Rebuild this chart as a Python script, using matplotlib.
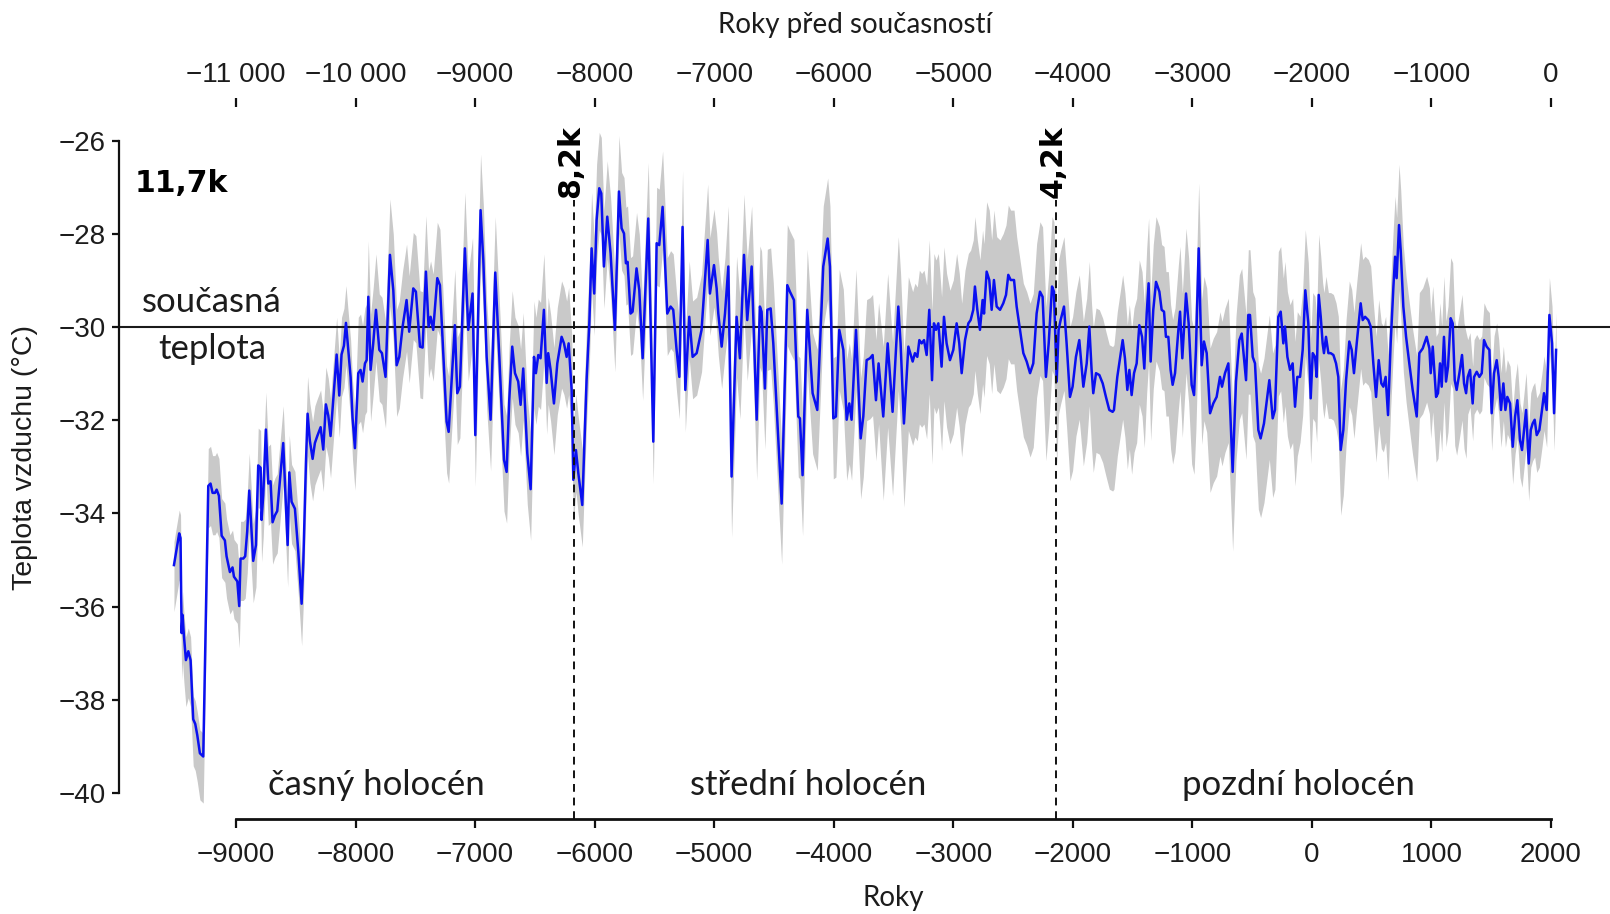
import numpy as np
import matplotlib
matplotlib.use("Agg")
import matplotlib.pyplot as plt
import matplotlib.font_manager as fm

# ---------------- data ----------------
year = [
    -9520, -9476, -9465, -9456, -9448, -9437, -9420, -9400, -9381, -9359, -9342, -9325, -9303, -9275,
    -9233, -9214, -9197, -9177, -9163, -9144, -9121, -9094, -9080, -9052, -9030, -9018, -8990, -8974,
    -8963, -8940, -8924, -8907, -8890, -8871, -8857, -8834, -8815, -8795, -8787, -8773, -8751, -8731,
    -8712, -8695, -8675, -8656, -8634, -8606, -8592, -8569, -8555, -8536, -8508, -8480, -8452, -8438,
    -8416, -8402, -8383, -8360, -8341, -8321, -8293, -8271, -8249, -8229, -8210, -8193, -8173, -8159,
    -8137, -8118, -8098, -8081, -8065, -8042, -8026, -8006,
    -7978, -7959, -7942, -7922, -7908, -7894, -7875, -7853, -7830, -7802, -7780, -7750, -7713, -7685,
    -7657, -7635, -7607, -7574, -7552, -7518, -7496, -7462, -7440, -7412, -7390, -7373, -7351, -7317,
    -7295, -7239, -7222, -7170, -7150, -7128, -7086, -7058, -7022, -6999, -6955, -6932, -6904, -6871,
    -6832, -6798, -6759, -6737, -6715, -6690, -6667, -6640, -6620, -6598, -6564, -6536, -6508, -6492,
    -6472, -6453, -6425, -6402,
    -6389, -6369, -6341, -6313, -6277, -6257, -6235, -6218, -6193, -6179, -6157, -6137, -6104, -6068,
    -6045, -6026, -6004, -5984, -5962, -5945, -5923, -5895, -5867, -5831, -5797, -5775, -5755, -5739,
    -5725, -5700, -5683, -5650, -5627, -5599, -5552, -5510, -5482, -5460, -5432, -5393, -5365, -5343,
    -5315, -5292, -5265, -5242, -5209, -5181, -5147, -5106, -5055, -5036, -5002, -4980, -4966, -4938,
    -4910, -4882, -4855,
    -4813, -4785, -4751, -4724, -4687, -4645, -4618, -4604, -4576, -4556, -4528, -4506, -4436, -4389,
    -4367, -4333, -4297, -4283, -4261, -4222, -4177, -4138, -4088, -4051, -4032, -4004, -3982, -3954,
    -3920, -3892, -3870, -3851, -3814, -3775, -3753, -3725, -3697, -3675, -3647, -3625, -3586, -3549,
    -3508, -3460, -3441, -3413, -3376, -3340, -3321, -3301, -3284, -3265, -3245, -3223, -3201,
    -3178, -3162, -3145, -3125, -3112, -3098, -3078, -3056, -3028, -3000, -2972, -2950, -2930, -2902,
    -2874, -2855, -2833, -2819, -2799, -2777, -2755, -2743, -2721, -2699, -2679, -2660, -2637, -2609,
    -2582, -2559, -2540, -2520, -2492, -2470, -2442, -2414, -2386, -2358, -2331, -2303, -2275, -2253,
    -2225, -2202, -2174, -2158, -2135, -2119, -2102, -2074, -2052, -2024, -2002, -1974, -1946, -1912,
    -1884, -1862, -1843, -1829, -1806, -1778, -1750, -1723, -1695, -1667,
    -1656, -1628, -1583, -1564, -1544, -1527, -1508, -1488, -1466, -1444, -1421, -1402, -1382, -1366,
    -1349, -1327, -1304, -1276, -1257, -1237, -1221, -1201, -1182, -1165, -1145, -1117, -1103, -1084,
    -1053, -1031, -1006, -986, -970, -947, -922, -903, -880, -852, -825, -797, -769, -752,
    -727, -699, -663, -635, -607, -587, -551, -532, -518, -495, -476, -448, -429, -401,
    -356, -328, -309, -281, -261, -239, -225, -205, -183, -161, -141, -122, -99, -77,
    -55, -30, -10, 7, 26, 40, 57, 74, 90, 101, 118, 138, 157, 180,
    202, 221, 241, 263, 286, 313, 333, 352, 375, 389, 408, 425, 445, 472,
    492, 514, 537, 559, 581, 598, 617, 637, 659, 682, 696, 709, 729, 743,
    765, 788, 815, 843, 877, 899, 927, 960, 983, 994, 1011, 1039, 1055, 1072,
    1086, 1105, 1122, 1139, 1161, 1178, 1195, 1211, 1234, 1256, 1273, 1290, 1304, 1323,
    1345, 1357, 1379, 1401, 1421, 1440, 1462, 1485, 1504, 1524, 1546, 1563, 1582, 1602,
    1619, 1635, 1658, 1680, 1700, 1719, 1741, 1758, 1775, 1792, 1814, 1831, 1847, 1864,
    1881, 1903, 1925, 1942, 1964, 1987, 2009, 2026, 2043,
]
temp = [
    -35.11, -34.43, -34.53, -36.57, -36.18, -36.62, -37.15, -36.96, -37.15, -38.42, -38.52, -38.76, -39.15, -39.22,
    -33.41, -33.36, -33.56, -33.56, -33.49, -33.62, -34.48, -34.58, -34.92, -35.26, -35.16, -35.36, -35.46, -35.99,
    -34.97, -34.97, -34.92, -34.38, -33.51, -34.38, -35.02, -34.68, -32.97, -33.02, -34.14, -33.61, -32.20, -33.36,
    -33.31, -34.19, -34.04, -33.95, -33.31, -32.49, -33.31, -34.68, -33.12, -33.75, -33.90, -34.82, -35.94, -35.06,
    -32.92, -31.86, -32.44, -32.83, -32.49, -32.34, -32.15, -32.63, -31.66, -31.90, -32.34, -31.76, -31.08, -30.59,
    -31.47, -30.59, -30.40, -29.91, -30.40, -31.08, -31.95, -32.60,
    -30.99, -30.92, -31.17, -30.78, -30.71, -29.35, -30.92, -30.35, -29.63, -30.49, -30.56, -31.07, -28.45, -29.21,
    -30.82, -30.64, -29.99, -29.42, -30.10, -29.17, -29.24, -30.42, -30.44, -28.81, -29.99, -29.78, -30.06, -28.95,
    -29.10, -32.03, -32.25, -29.96, -31.42, -31.28, -28.31, -30.06, -29.28, -32.32, -27.49, -28.56, -30.64, -31.99,
    -28.83, -30.64, -32.85, -33.11, -31.57, -30.42, -30.99, -31.17, -31.67, -30.89, -32.71, -33.48, -30.64, -30.99,
    -30.60, -30.67, -29.63, -31.20,
    -30.56, -30.92, -31.64, -30.78, -30.21, -30.35, -30.64, -30.35, -31.35, -33.28, -32.64, -33.14, -33.82, -31.14,
    -29.92, -28.31, -29.28, -27.70, -27.02, -27.13, -28.70, -27.63, -28.42, -30.06, -27.09, -27.88, -27.99, -28.63,
    -28.60, -29.71, -29.67, -28.74, -29.21, -30.67, -27.67, -32.46, -28.20, -28.24, -27.42, -29.71, -29.56, -29.63,
    -30.49, -31.07, -27.85, -31.35, -29.78, -30.64, -30.56, -30.06, -28.13, -29.28, -28.67, -29.17, -29.71, -30.42,
    -29.71, -28.70, -33.21,
    -29.78, -30.67, -28.45, -29.85, -28.70, -31.99, -29.56, -29.67, -31.32, -29.63, -29.60, -30.35, -33.79, -29.10,
    -29.24, -29.42, -31.92, -31.96, -33.18, -29.63, -31.42, -31.78, -28.70, -28.10, -28.70, -31.96, -31.92, -30.06,
    -30.49, -31.99, -31.64, -31.99, -30.06, -32.39, -31.92, -30.71, -30.67, -30.60, -31.57, -30.78, -31.92, -30.35,
    -31.82, -29.56, -30.35, -32.07, -30.42, -30.74, -30.56, -30.64, -30.28, -30.35, -30.28, -30.60, -29.63,
    -31.14, -29.92, -30.06, -29.92, -30.35, -30.85, -29.78, -30.35, -30.71, -30.49, -29.92, -30.35, -30.99, -30.28,
    -29.92, -29.85, -29.63, -29.13, -29.63, -30.06, -29.42, -29.71, -28.81, -28.99, -29.63, -28.99, -29.56, -29.63,
    -29.49, -29.31, -28.88, -28.99, -28.99, -29.56, -30.06, -30.56, -30.74, -30.99, -30.78, -29.71, -29.24, -29.35,
    -31.07, -30.35, -29.13, -29.24, -31.17, -30.06, -29.85, -29.56, -30.35, -31.50, -31.28, -30.64, -30.28, -31.28,
    -30.78, -29.99, -30.92, -31.42, -30.99, -31.03, -31.21, -31.50, -31.78, -31.82,
    -31.78, -31.07, -30.28, -30.67, -31.35, -30.92, -31.46, -30.99, -30.78, -29.96, -30.21, -30.89, -29.71, -29.06,
    -30.74, -29.63, -29.03, -29.24, -29.63, -29.67, -30.21, -30.21, -30.92, -31.24, -30.99, -30.06, -29.67, -30.67,
    -29.28, -29.92, -31.24, -31.46, -30.49, -28.31, -30.82, -30.31, -30.56, -31.85, -31.64, -31.50, -31.07, -31.28,
    -30.99, -30.78, -33.11, -31.17, -30.28, -30.14, -31.14, -29.74, -29.74, -30.64, -30.78, -32.21, -32.39, -32.07,
    -31.14, -31.96, -31.78, -29.78, -29.67, -30.35, -29.99, -30.64, -30.92, -30.78, -31.71, -31.07, -31.07, -30.49,
    -29.21, -29.92, -31.53, -30.56, -30.64, -31.07, -29.31, -29.78, -30.35, -30.56, -30.21, -30.56, -30.56, -30.60,
    -30.78, -31.07, -32.64, -32.21, -31.14, -30.31, -30.49, -30.99, -30.35, -29.99, -29.49, -29.85, -29.78, -29.85,
    -29.99, -30.78, -31.50, -30.71, -31.21, -31.28, -31.07, -31.89, -30.35, -29.13, -28.49, -28.95, -27.81, -28.35,
    -29.56, -30.21, -30.78, -31.35, -31.92, -30.56, -30.46, -30.21, -30.46, -30.99, -30.42, -31.50, -31.42, -30.78,
    -31.28, -30.21, -31.17, -30.85, -29.81, -29.92, -31.14, -31.35, -30.99, -30.60, -31.21, -31.42, -31.07, -30.92,
    -31.64, -31.07, -30.96, -31.07, -30.99, -30.28, -30.42, -30.49, -31.85, -30.99, -30.71, -31.07, -31.78, -31.21,
    -31.78, -31.50, -31.64, -32.57, -31.92, -31.57, -32.43, -32.64, -32.21, -31.78, -32.93, -32.21, -32.07, -31.99,
    -32.32, -32.21, -31.78, -31.42, -31.78, -29.74, -30.35, -31.85, -30.49,
]

# half-width of the grey uncertainty band, read per era (upper / lower, degC)
band_era_start = [-9600, -9250, -8000, -6200, -4900, -3600, -2000, -100, 1300]
band_upper_hw = [0.5, 0.8, 1.2, 1.2, 1.3, 1.5, 1.4, 1.3, 0.8]
band_lower_hw = [1.0, 0.9, 1.1, 0.9, 1.3, 1.8, 1.7, 1.4, 0.8]

present_temp = -30
events = [-6170, -2141]
event_labels = ["8,2k", "4,2k"]
event_label_x = [-6200, -2166]

periods = ["časný holocén", "střední holocén", "pozdní holocén"]
period_x = [-7826, -4211, -112]

xticks = [-9000, -8000, -7000, -6000, -5000, -4000, -3000, -2000, -1000, 0, 1000, 2000]
xtick_labels = ["−9000", "−8000", "−7000", "−6000", "−5000", "−4000", "−3000",
                "−2000", "−1000", "0", "1000", "2000"]
top_ticks = [-11000, -10000, -9000, -8000, -7000, -6000, -5000, -4000, -3000, -2000, -1000, 0]
top_labels = ["−11 000", "−10 000", "−9000", "−8000", "−7000", "−6000", "−5000",
              "−4000", "−3000", "−2000", "−1000", "0"]
bp_offset = 2000
yticks = [-26, -28, -30, -32, -34, -36, -38, -40]
ytick_labels = ["−26", "−28", "−30", "−32", "−34", "−36", "−38", "−40"]

# ---------------- fonts ----------------
avail = {f.name for f in fm.fontManager.ttflist}
def pick(*names):
    for n in names:
        if n in avail:
            return n
    return "DejaVu Sans"

tick_font = pick("Liberation Sans", "Arial", "DejaVu Sans")
label_font = pick("Lato", "Open Sans", "Noto Sans", "DejaVu Sans")
plt.rcParams["font.family"] = [tick_font, "DejaVu Sans"]

TXT = "#1c1c1c"

# ---------------- figure ----------------
fig = plt.figure(figsize=(16.10, 9.14), dpi=100)
ax = fig.add_axes([0.0739, 0.1035, 0.9261, 0.768])

yr = np.asarray(year, dtype=float)
tp = np.asarray(temp, dtype=float)
era = np.searchsorted(band_era_start, yr, side="right") - 1
up = tp + np.asarray(band_upper_hw)[era]
lo = tp - np.asarray(band_lower_hw)[era]

ax.fill_between(yr, lo, up, color="#c9c9c9", lw=0, zorder=1)
ax.axhline(present_temp, color="#1a1a1a", lw=1.5, zorder=2)
ax.plot(yr, tp, color="#0a10f0", lw=1.8, zorder=3, solid_joinstyle="round")

ax.set_xlim(-9980, 2494)
ax.set_ylim(-40.57, -25.5)

for ex, lx, lab in zip(events, event_label_x, event_labels):
    ax.plot([ex, ex], [-40.57, -27.27], color="#111111", lw=1.4,
            ls=(0, (4, 3)), zorder=4)
    ax.text(lx, -27.22, lab, rotation=90, ha="center", va="bottom",
            fontsize=21.5, fontweight="bold", family="DejaVu Sans", color="#000000")

ax.text(-9846, -27.09, "11,7k", ha="left", va="baseline", fontsize=21.5,
        fontweight="bold", family="DejaVu Sans", color="#000000")

for px, p in zip(period_x, periods):
    ax.text(px, -40.05, p, ha="center", va="baseline", fontsize=25,
            family=label_font, color=TXT)

ax.text(-9202, -29.67, "současná", ha="center", va="baseline", fontsize=25,
        family=label_font, color=TXT)
ax.text(-9202, -30.69, "teplota", ha="center", va="baseline", fontsize=25,
        family=label_font, color=TXT)

# spines / ticks
for s in ("top", "right"):
    ax.spines[s].set_visible(False)
ax.spines["left"].set_bounds(-40, -26)
ax.spines["bottom"].set_bounds(-9000, 2000)
ax.spines["left"].set_linewidth(1.6)
ax.spines["bottom"].set_linewidth(2.0)
ax.spines["left"].set_color("#111111")
ax.spines["bottom"].set_color("#111111")

ax.set_xticks(xticks)
ax.set_xticklabels(xtick_labels)
ax.set_yticks(yticks)
ax.set_yticklabels(ytick_labels)
ax.tick_params(axis="x", length=6.5, width=1.6, pad=10, labelsize=20,
               colors="#111111", labelcolor=TXT)
ax.tick_params(axis="y", length=5, width=1.6, pad=4.5, labelsize=20,
               colors="#111111", labelcolor=TXT)

top = ax.secondary_xaxis(1.0148, functions=(lambda x: x - bp_offset, lambda x: x + bp_offset))
top.set_xticks(top_ticks)
top.set_xticklabels(top_labels)
top.spines["top"].set_visible(False)
top.tick_params(axis="x", direction="out", length=6.5, width=1.6, pad=7,
                labelsize=20, colors="#111111", labelcolor=TXT)

fig.text(24.6 / 1610, 1 - 457 / 914, "Teplota vzduchu (°C)", rotation=90,
         ha="center", va="center", fontsize=20.5, color=TXT)
fig.text(893 / 1610, 1 - 898 / 914, "Roky", ha="center", va="center",
         fontsize=20, family=label_font, color=TXT)
fig.text(855 / 1610, 1 - 24.6 / 914, "Roky před současností", ha="center",
         va="center", fontsize=20, family=label_font, color=TXT)

fig.savefig("out.png", dpi=100, facecolor="white")
